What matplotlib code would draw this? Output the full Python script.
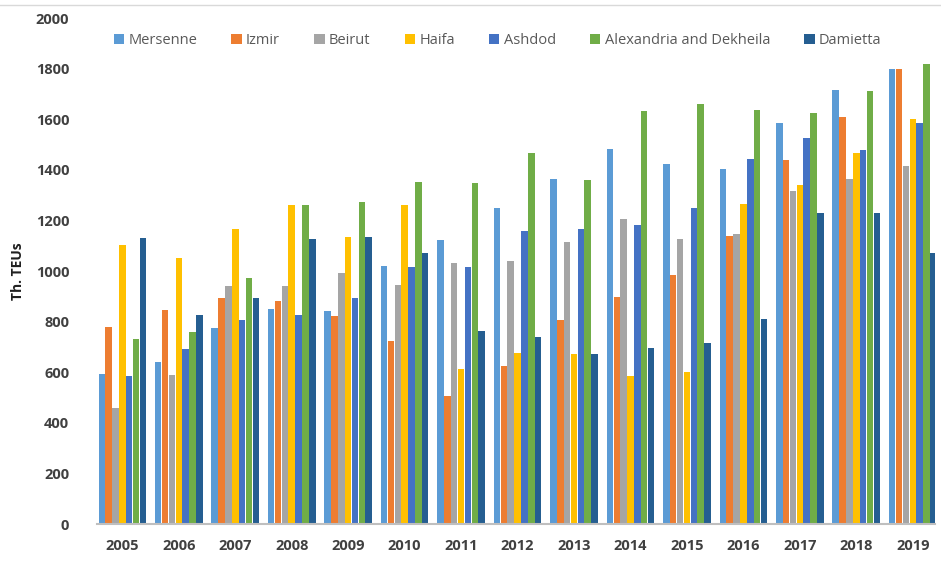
import matplotlib
matplotlib.use("Agg")
import matplotlib.pyplot as plt
import numpy as np
from matplotlib.lines import Line2D

matplotlib.rcParams["font.family"] = ["Open Sans", "DejaVu Sans"]

years = ["2005", "2006", "2007", "2008", "2009", "2010", "2011", "2012",
         "2013", "2014", "2015", "2016", "2017", "2018", "2019"]
ports = ["Mersenne", "Izmir", "Beirut", "Haifa", "Ashdod",
         "Alexandria and Dekheila", "Damietta"]

mersenne = [593, 639, 777, 851, 841, 1020, 1124, 1248, 1364, 1482, 1423, 1403, 1585, 1715, 1800]
izmir = [780, 845, 894, 881, 823, 725, 506, 626, 806, 896, 985, 1138, 1440, 1610, 1798]
beirut = [460, 588, 943, 943, 991, 945, 1032, 1040, 1116, 1207, 1126, 1146, 1315, 1365, 1415]
haifa = [1105, 1050, 1167, 1260, 1133, 1261, 614, 677, 672, 585, 600, 1265, 1340, 1465, 1600]
ashdod = [585, 692, 806, 827, 892, 1015, 1017, 1159, 1168, 1182, 1250, 1443, 1525, 1478, 1585]
alexandria = [730, 759, 973, 1260, 1274, 1353, 1347, 1468, 1360, 1632, 1660, 1636, 1625, 1710, 1818]
damietta = [1129, 827, 893, 1125, 1136, 1070, 763, 739, 674, 697, 716, 809, 1230, 1230, 1070]

series = [mersenne, izmir, beirut, haifa, ashdod, alexandria, damietta]
colors = ["#5B9BD5", "#ED7D31", "#A5A5A5", "#FFC000", "#4472C4", "#70AD47", "#255E91"]

fig = plt.figure(figsize=(9.41, 5.66), dpi=100)
ax = fig.add_axes([0.103, 0.074, 0.891, 0.894])

x = np.arange(len(years))
n = len(series)
width = 0.85 / n
for i, (name, vals, c) in enumerate(zip(ports, series, colors)):
    ax.bar(x + (i - (n - 1) / 2) * width, vals, width * 0.95, color=c, label=name)

ax.set_xlim(-0.45, 14.4)
ax.set_ylim(0, 2000)
ax.set_yticks(range(0, 2001, 200))
ax.set_xticks(x)
ax.set_xticklabels(years)
ax.tick_params(axis="both", length=0, labelsize=10.5, labelcolor="#404040")
for lbl in ax.get_xticklabels() + ax.get_yticklabels():
    lbl.set_fontweight("bold")
ax.tick_params(axis="y", pad=20)
ax.tick_params(axis="x", pad=11)

for side in ["top", "right", "left"]:
    ax.spines[side].set_visible(False)
ax.spines["bottom"].set_color("#BFBFBF")
ax.spines["bottom"].set_linewidth(1.5)

ax.set_ylabel("Th. TEUs", fontsize=10, fontweight="bold", color="#202020", labelpad=8)

ax.legend(loc="center", bbox_to_anchor=(0.478, 0.955), ncol=7, frameon=False,
          fontsize=10.5, labelcolor="#595959", handlelength=0.7, handleheight=0.7,
          handletextpad=0.3, columnspacing=2.35)

# faint border line at the top of the picture
fig.add_artist(Line2D([0, 1], [0.991, 0.991], transform=fig.transFigure,
                      color="#D9D9D9", linewidth=1))

fig.savefig("out.png", dpi=100)
